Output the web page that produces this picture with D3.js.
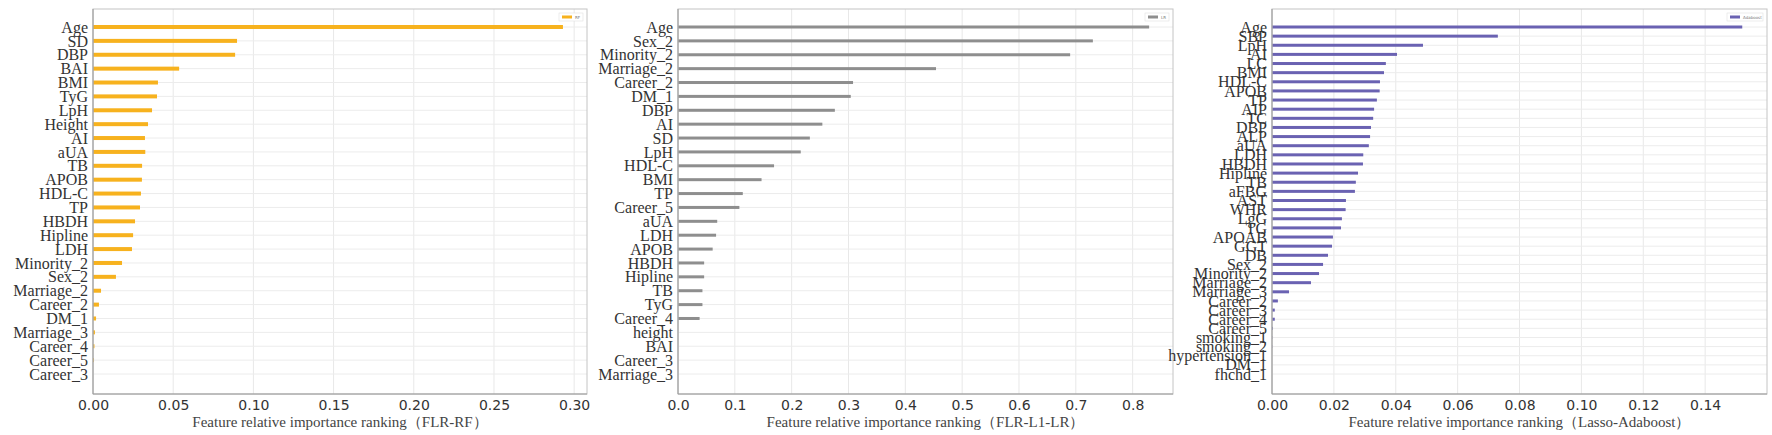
<!DOCTYPE html>
<html>
<head>
<meta charset="utf-8">
<script src="https://cdn.jsdelivr.net/npm/d3@7"></script>
<style>
  body { margin: 0; background: #fff; }
</style>
</head>
<body>
<div id="chart"></div>
<script>
// feature names and importances, top to bottom
const rfFeatures = ["Age", "SD", "DBP", "BAI", "BMI", "TyG", "LpH", "Height", "AI", "aUA", "TB", "APOB",
  "HDL-C", "TP", "HBDH", "Hipline", "LDH", "Minority_2", "Sex_2", "Marriage_2", "Career_2", "DM_1",
  "Marriage_3", "Career_4", "Career_5", "Career_3"];
const rfValues = [0.293, 0.0898, 0.0886, 0.0537, 0.0405, 0.0399, 0.0368, 0.0343, 0.0324, 0.0326, 0.0306, 0.0305,
  0.0299, 0.0293, 0.0262, 0.025, 0.0243, 0.0181, 0.0143, 0.005, 0.0037, 0.0019,
  0.0012, 0.0009, 0.0005, 0];

const lrFeatures = ["Age", "Sex_2", "Minority_2", "Marriage_2", "Career_2", "DM_1", "DBP", "AI", "SD", "LpH",
  "HDL-C", "BMI", "TP", "Career_5", "aUA", "LDH", "APOB", "HBDH", "Hipline", "TB", "TyG", "Career_4",
  "height", "BAI", "Career_3", "Marriage_3"];
const lrValues = [0.829, 0.73, 0.69, 0.454, 0.308, 0.304, 0.276, 0.254, 0.232, 0.216,
  0.169, 0.147, 0.114, 0.108, 0.069, 0.067, 0.061, 0.046, 0.046, 0.043, 0.043, 0.038,
  0, 0, 0, 0];

const adaFeatures = ["Age", "SBP", "LpH", "AI", "LC", "BMI", "HDL-C", "APOB", "TP", "AIP", "TC", "DBP", "ALP",
  "aUA", "LDH", "HBDH", "Hipline", "TB", "aFBG", "AST", "WHR", "LgG", "TG", "APOAB", "GGT", "DB",
  "Sex_2", "Minority_2", "Marriage_2", "Marriage_3", "Career_2", "Career_3", "Career_4", "Career_5",
  "smoking_1", "smoking_2", "hypertension_1", "DM_1", "fhchd_1"];
const adaValues = [0.152, 0.073, 0.0488, 0.0404, 0.0368, 0.0362, 0.0349, 0.0348, 0.0339, 0.033, 0.0327, 0.032, 0.0317,
  0.0313, 0.0295, 0.0294, 0.0278, 0.0271, 0.0268, 0.0239, 0.0238, 0.0226, 0.0223, 0.0197, 0.0194, 0.0181,
  0.0165, 0.0152, 0.0126, 0.0055, 0.0019, 0.0009, 0.0009, 0.0003,
  0.0001, 0.0001, 0, 0, 0];

const rfTicks = [0, 0.05, 0.1, 0.15, 0.2, 0.25, 0.3];
const lrTicks = [0, 0.1, 0.2, 0.3, 0.4, 0.5, 0.6, 0.7, 0.8];
const adaTicks = [0, 0.02, 0.04, 0.06, 0.08, 0.1, 0.12, 0.14];

const W = 1772, H = 435;
const plotTop = 9, plotBottom = 394;

const svg = d3.select("#chart")
  .append("svg")
  .attr("width", W)
  .attr("height", H);

function drawPanel(p) {
  const x = d3.scaleLinear().domain([0, p.xmax]).range([p.left, p.right]);
  const y = d3.scalePoint().domain(p.features).range([plotTop + 18, plotBottom - 20]);
  const g = svg.append("g");

  // grid
  g.append("g")
    .selectAll("line")
    .data(p.ticks)
    .join("line")
    .attr("x1", d => x(d)).attr("x2", d => x(d))
    .attr("y1", plotTop).attr("y2", plotBottom)
    .attr("stroke", "#e8e8e8").attr("stroke-width", 1);
  g.append("g")
    .selectAll("line")
    .data(p.features)
    .join("line")
    .attr("x1", p.left).attr("x2", p.right)
    .attr("y1", d => y(d)).attr("y2", d => y(d))
    .attr("stroke", "#ececec").attr("stroke-width", 1);

  // bars
  g.append("g")
    .selectAll("rect")
    .data(p.values)
    .join("rect")
    .attr("x", x(0))
    .attr("y", (d, i) => y(p.features[i]) - p.barH / 2)
    .attr("width", d => x(d) - x(0))
    .attr("height", p.barH)
    .attr("fill", p.color);

  // frame
  g.append("rect")
    .attr("x", p.left).attr("y", plotTop)
    .attr("width", p.right - p.left).attr("height", plotBottom - plotTop)
    .attr("fill", "none").attr("stroke", "#c4c4c4");
  g.append("path")
    .attr("d", `M${p.left},${plotTop}V${plotBottom}H${p.right}`)
    .attr("fill", "none").attr("stroke", "#9a9a9a");

  // y labels
  const ya = g.append("g")
    .attr("transform", `translate(${p.left},0)`)
    .call(d3.axisLeft(y).tickSize(0).tickPadding(5));
  ya.select(".domain").remove();
  ya.selectAll("text")
    .attr("font-family", "'Liberation Serif', serif")
    .attr("font-size", 16)
    .attr("fill", "#333");

  // x labels
  const xa = g.append("g")
    .attr("transform", `translate(0,${plotBottom})`)
    .call(d3.axisBottom(x).tickValues(p.ticks).tickFormat(d3.format(p.fmt)).tickSize(0).tickPadding(6));
  xa.select(".domain").remove();
  xa.selectAll("text")
    .attr("font-family", "'DejaVu Sans', sans-serif")
    .attr("font-size", 14)
    .attr("fill", "#333");

  g.append("text")
    .attr("x", (p.left + p.right) / 2)
    .attr("y", 427)
    .attr("text-anchor", "middle")
    .attr("font-family", "'Liberation Serif', serif")
    .attr("font-size", 15)
    .attr("fill", "#444")
    .text(p.title);

  // legend
  const lg = g.append("g").attr("transform", `translate(${p.right - p.legendW},13)`);
  lg.append("rect").attr("x", 0).attr("y", 0)
    .attr("width", p.legendW - 4).attr("height", 8)
    .attr("fill", "#fff").attr("stroke", "#e2e2e2").attr("stroke-width", 0.6);
  lg.append("rect").attr("x", 3).attr("y", 2.5).attr("width", 10).attr("height", 3).attr("fill", p.color);
  lg.append("text").attr("x", 16).attr("y", 6)
    .attr("font-family", "'DejaVu Sans', sans-serif")
    .attr("font-size", 4).attr("fill", "#777")
    .text(p.legend);
}

drawPanel({ features: rfFeatures, values: rfValues, ticks: rfTicks, fmt: ".2f", xmax: 0.308,
  left: 93, right: 587, color: "#f7b21e", barH: 4, legend: "RF", legendW: 28,
  title: "Feature relative importance ranking（FLR-RF）" });
drawPanel({ features: lrFeatures, values: lrValues, ticks: lrTicks, fmt: ".1f", xmax: 0.871,
  left: 678, right: 1173, color: "#8e8e8e", barH: 3, legend: "LR", legendW: 28,
  title: "Feature relative importance ranking（FLR-L1-LR）" });
drawPanel({ features: adaFeatures, values: adaValues, ticks: adaTicks, fmt: ".2f", xmax: 0.16,
  left: 1272, right: 1767, color: "#6a62b2", barH: 3, legend: "Adaboost", legendW: 40,
  title: "Feature relative importance ranking（Lasso-Adaboost）" });
</script>
</body>
</html>
